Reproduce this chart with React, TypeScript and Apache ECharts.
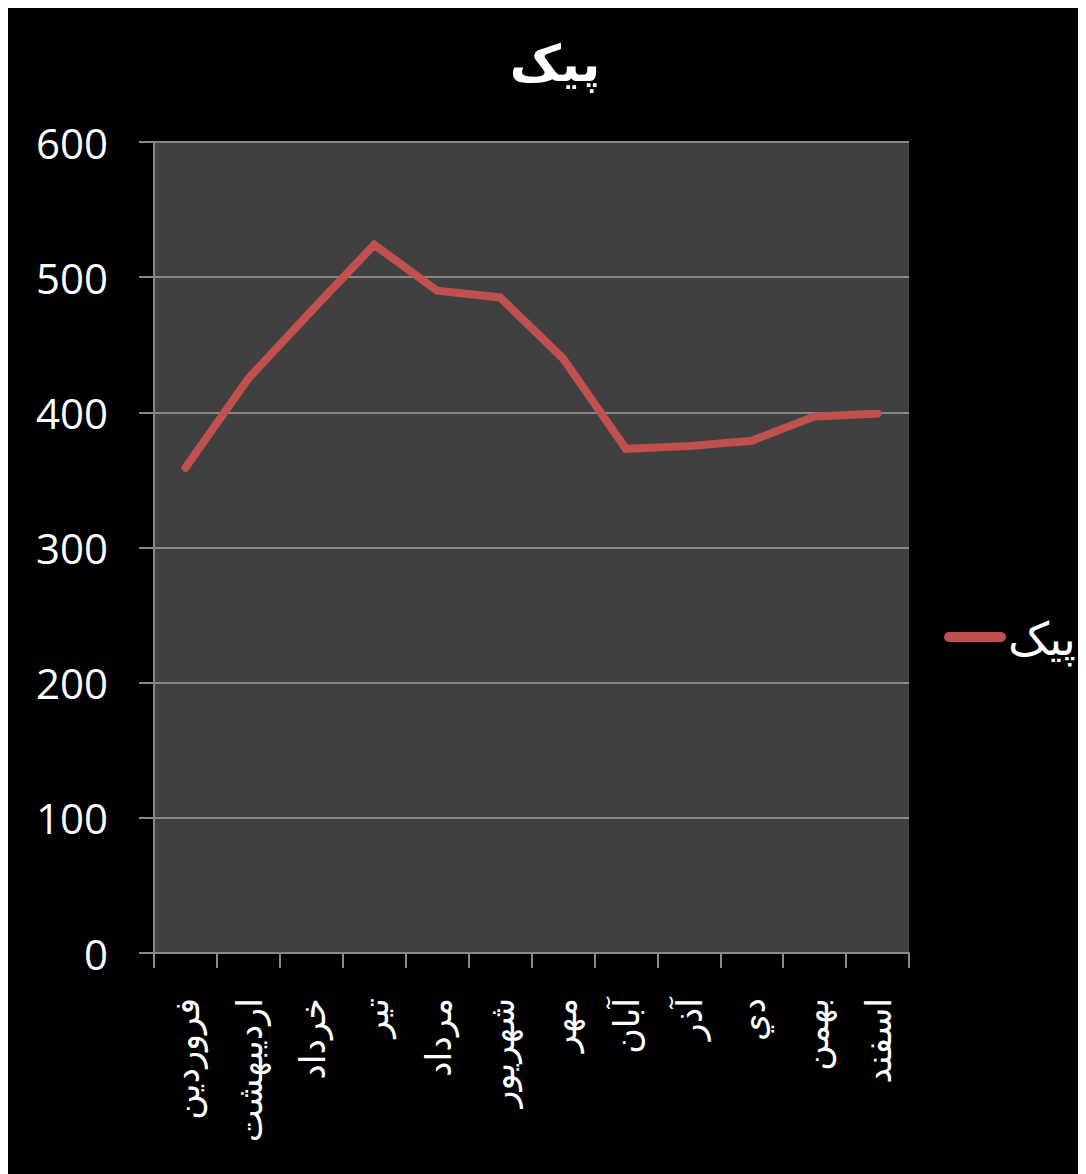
import React, { useEffect, useRef } from "react";
import * as echarts from "echarts";

const months = ["فروردين", "ارديبهشت", "خرداد", "تیر", "مرداد", "شهريور", "مهر", "آبان", "آذر", "دي", "بهمن", "اسفند"];
const peakValues = [359, 425, 475, 524, 490, 485, 440, 373, 375, 379, 397, 399];
const seriesName = "پیک";
const titleText = "پیک";

const FONT = '"Open Sans", "DejaVu Sans", sans-serif';

export default function App() {
  const ref = useRef<HTMLDivElement>(null);
  useEffect(() => {
    if (!ref.current) return;
    const chart = echarts.init(ref.current, null, { renderer: "svg" });
    chart.setOption({
      animation: false,
      backgroundColor: "#000000",
      title: {
        text: titleText,
        left: 542,
        top: 24,
        textAlign: "center",
        textStyle: { color: "#ffffff", fontSize: 50, fontWeight: "bold", fontFamily: FONT },
      },
      legend: {
        data: [seriesName],
        orient: "vertical",
        left: 936,
        top: 606,
        padding: 0,
        itemWidth: 62,
        itemHeight: 10,
        icon: "path://M5,0 H57 A5,5 0 0 1 57,10 H5 A5,5 0 0 1 5,0 Z",
        textStyle: { color: "#ffffff", fontSize: 46, fontFamily: FONT, padding: [0, 0, 0, -3] },
      },
      grid: {
        left: 146,
        top: 134,
        right: 177,
        bottom: 221,
        show: true,
        backgroundColor: "#404040",
        borderWidth: 0,
        containLabel: false,
      },
      xAxis: {
        type: "category",
        data: months,
        boundaryGap: true,
        axisLine: { show: true, lineStyle: { color: "#888888", width: 2 } },
        axisTick: { show: true, alignWithLabel: false, length: 15, lineStyle: { color: "#888888", width: 2 } },
        axisLabel: { color: "#ffffff", fontSize: 35, fontFamily: FONT, rotate: 90, margin: 45, interval: 0 },
        splitLine: { show: false },
      },
      yAxis: {
        type: "value",
        min: 0,
        max: 600,
        interval: 100,
        axisLine: { show: true, lineStyle: { color: "#888888", width: 2 } },
        axisTick: { show: true, length: 15, lineStyle: { color: "#888888", width: 2 } },
        axisLabel: { color: "#ffffff", fontSize: 42, fontFamily: FONT, margin: 46 },
        splitLine: { show: true, lineStyle: { color: "#888888", width: 2 } },
      },
      series: [
        {
          name: seriesName,
          type: "line",
          data: peakValues,
          symbol: "none",
          itemStyle: { color: "#C0504D" },
          lineStyle: { color: "#C0504D", width: 8, cap: "round", join: "miter" },
        },
      ],
    });
    return () => chart.dispose();
  }, []);
  return <div ref={ref} style={{ width: 1078, height: 1166 }} />;
}
